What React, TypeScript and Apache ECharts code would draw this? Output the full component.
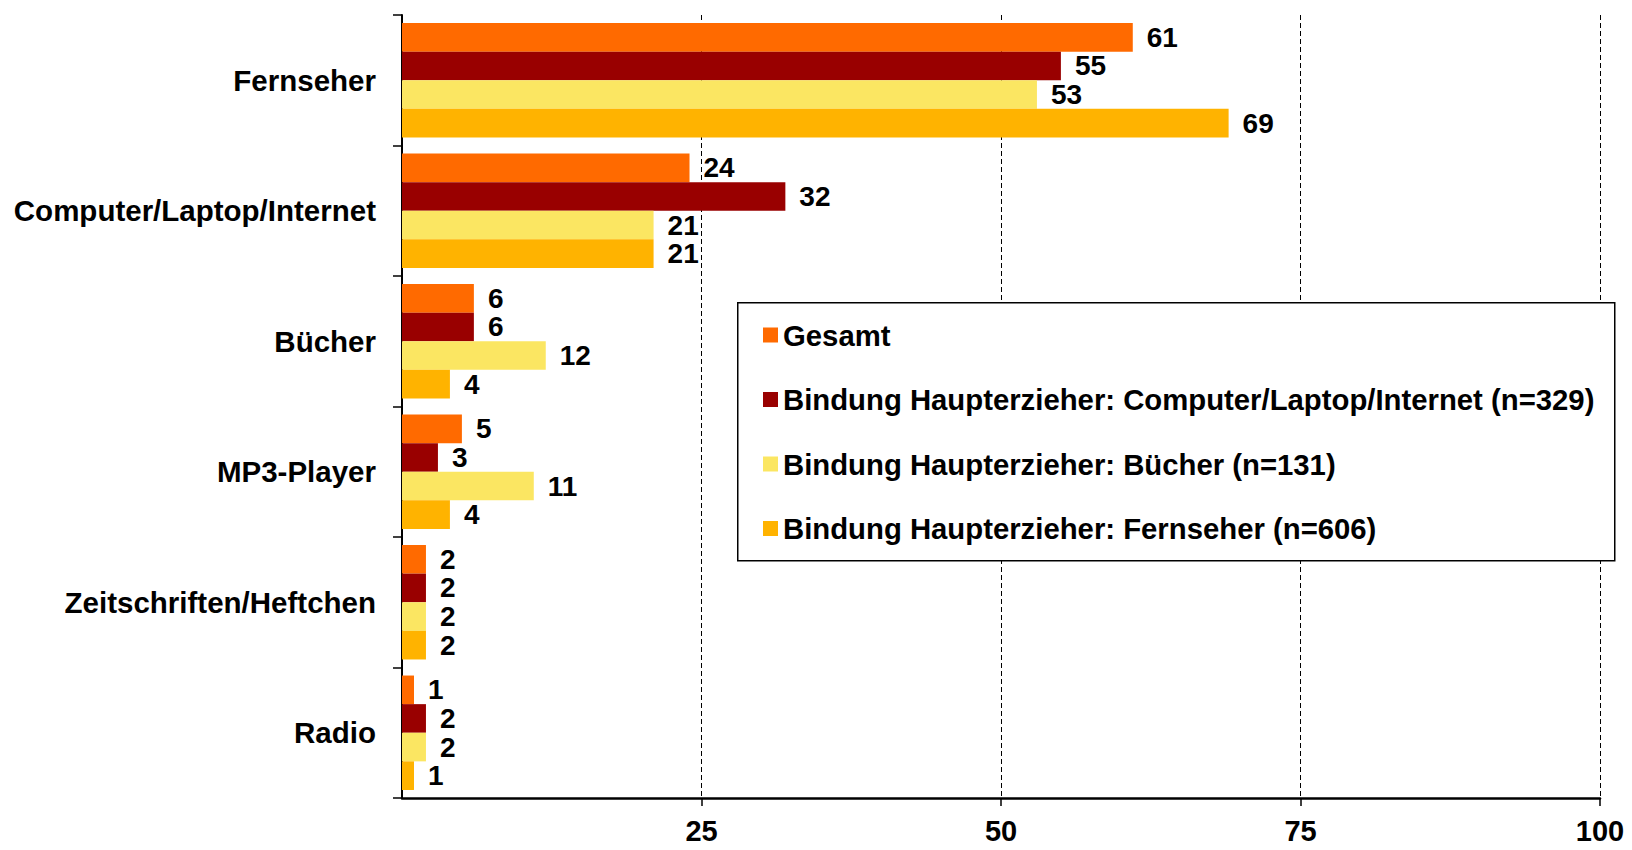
import React, { useEffect, useRef } from "react";
import * as echarts from "echarts";

const categories = [
  "Fernseher",
  "Computer/Laptop/Internet",
  "Bücher",
  "MP3-Player",
  "Zeitschriften/Heftchen",
  "Radio",
];

const seriesNames = [
  "Gesamt",
  "Bindung Haupterzieher: Computer/Laptop/Internet (n=329)",
  "Bindung Haupterzieher: Bücher (n=131)",
  "Bindung Haupterzieher: Fernseher (n=606)",
];

const gesamt = [61, 24, 6, 5, 2, 1];
const bindungComputer = [55, 32, 6, 3, 2, 2];
const bindungBuecher = [53, 21, 12, 11, 2, 2];
const bindungFernseher = [69, 21, 4, 4, 2, 1];

const seriesValues = [gesamt, bindungComputer, bindungBuecher, bindungFernseher];
const colors = ["#FF6A00", "#990000", "#FBE662", "#FFB300"];

const xTicks = [0, 25, 50, 75, 100];

const FONT = "'Liberation Sans', Arial, sans-serif";

export default function App() {
  const ref = useRef<HTMLDivElement>(null);

  useEffect(() => {
    if (!ref.current) return;
    const chart = echarts.init(ref.current, null, { renderer: "svg" });
    chart.setOption({
      animation: false,
      backgroundColor: "#ffffff",
      grid: { left: 402, right: 32, top: 15, bottom: 52, containLabel: false },
      legend: {
        orient: "vertical",
        left: 763,
        top: 320,
        padding: 0,
        itemGap: 34.5,
        itemWidth: 15,
        itemHeight: 15,
        icon: "rect",
        z: 6,
        data: seriesNames,
        textStyle: {
          fontFamily: FONT,
          fontWeight: "bold",
          fontSize: 29.3,
          lineHeight: 30,
          color: "#000",
        },
      },
      graphic: [
        {
          type: "rect",
          left: 737,
          top: 302,
          z: 1,
          shape: { x: 0, y: 0, width: 877, height: 258 },
          style: { fill: "#ffffff", stroke: "#000", lineWidth: 1.5 },
        },
      ],
      xAxis: {
        type: "value",
        min: xTicks[0],
        max: xTicks[xTicks.length - 1],
        interval: 25,
        axisLine: { show: true, lineStyle: { color: "#000", width: 2.5 } },
        axisTick: { show: true, length: 8, lineStyle: { color: "#000", width: 1.5 } },
        axisLabel: {
          showMinLabel: false,
          margin: 18,
          fontFamily: FONT,
          fontWeight: "bold",
          fontSize: 29,
          color: "#000",
          formatter: (v: number) => (v === 0 ? "" : String(v)),
        },
        splitLine: {
          show: true,
          lineStyle: { color: "#000", width: 1, type: [5, 3] },
        },
      },
      yAxis: {
        type: "category",
        inverse: true,
        data: categories,
        axisLine: { show: true, lineStyle: { color: "#000", width: 2 } },
        axisTick: { show: true, length: 9, lineStyle: { color: "#000", width: 1.5 } },
        axisLabel: {
          margin: 26,
          fontFamily: FONT,
          fontWeight: "bold",
          fontSize: 29.5,
          color: "#000",
        },
        splitLine: { show: false },
      },
      series: seriesNames.map((name, i) => ({
        name,
        type: "bar",
        data: seriesValues[i],
        barGap: "0%",
        barCategoryGap: "12.3%",
        itemStyle: { color: colors[i] },
        label: {
          show: true,
          position: "right",
          distance: 14,
          fontFamily: FONT,
          fontWeight: "bold",
          fontSize: 28,
          lineHeight: 24,
          color: "#000",
        },
      })),
    });
    return () => chart.dispose();
  }, []);

  return (
    <div
      ref={ref}
      style={{ position: "fixed", left: 0, top: 0, width: 1632, height: 850 }}
    />
  );
}
